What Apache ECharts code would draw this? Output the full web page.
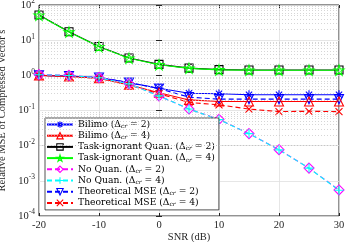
<!DOCTYPE html>
<html><head><meta charset="utf-8">
<script src="https://cdn.jsdelivr.net/npm/echarts@6/dist/echarts.min.js"></script>
<style>html,body{margin:0;padding:0;background:#fff}#c{width:346px;height:242px}</style>
</head><body><div id="c"></div>
<script>
const snr = [-20,-15,-10,-5,0,5,10,15,20,25,30];
const bilimo2 = [1.0,0.95,0.87,0.62,0.43,0.31,0.30,0.28,0.28,0.28,0.28];
const bilimo4 = [1.0,0.93,0.83,0.54,0.32,0.20,0.18,0.18,0.18,0.18,0.18];
const task2 = [52,17.4,6.6,3.1,2.05,1.6,1.45,1.42,1.42,1.42,1.42];
const task4 = [51,17,6.5,3.05,2.0,1.58,1.43,1.4,1.4,1.4,1.4];
const noq2 = [1.05,1.0,0.86,0.58,0.26,0.11,0.056,0.022,0.0077,0.0023,0.00055];
const noq4 = [1.04,0.99,0.85,0.57,0.26,0.11,0.055,0.022,0.0076,0.0023,0.00054];
const theo2 = [1.0,0.96,0.87,0.62,0.42,0.24,0.21,0.21,0.21,0.21,0.21];
const theo4 = [1.0,0.93,0.82,0.53,0.30,0.17,0.145,0.11,0.093,0.095,0.093];
const names = ['Bilimo (Δcr = 2)','Bilimo (Δcr = 4)','Task-ignorant Quan. (Δcr = 2)','Task-ignorant Quan. (Δcr = 4)','No Quan. (Δcr = 2)','No Quan. (Δcr = 4)','Theoretical MSE (Δcr = 2)','Theoretical MSE (Δcr = 4)'];

const FONT = 'Liberation Serif';
const LFONT = 'DejaVu Serif';
const asterisk = 'path://M5,0 L5,10 M0,5 L10,5 M1.5,1.5 L8.5,8.5 M1.5,8.5 L8.5,1.5';
const plus = 'path://M5,0 L5,10 M0,5 L10,5';
const cross = 'path://M0,0 L10,10 M0,10 L10,0';
const star = 'path://M5,0 L6.2,3.6 L10,3.6 L6.9,5.8 L8.1,9.5 L5,7.2 L1.9,9.5 L3.1,5.8 L0,3.6 L3.8,3.6 Z';
const downTri = 'path://M0,0 L10,0 L5,8.7 Z';
const clear = 'rgba(255,255,255,0)';

function pairs(arr){ return snr.map((x,i)=>[x,arr[i]]); }
const colorOf = {};
function mk(name, data, color, symbol, size, dashed){
  colorOf[name] = color;
  return {
    name, type:'line', data:pairs(data), symbol, symbolSize:size,
    lineStyle:{color, width:1.1, type: dashed ? [5,3] : 'solid'},
    itemStyle:{color: clear, borderColor:color, borderWidth:1.1},
    emphasis:{disabled:true}, z: 3
  };
}
const minorVals = [];
for (let k=-4;k<=1;k++) for (let m=2;m<=9;m++) minorVals.push(m*Math.pow(10,k));

const series = [
  mk(names[2], task2, '#000000', 'rect', 8, false),
  mk(names[3], task4, '#00ff00', star, 10, false),
  mk(names[0], bilimo2, '#0000ff', asterisk, 9, false),
  mk(names[6], theo2, '#0000ff', downTri, 9, true),
  mk(names[1], bilimo4, '#ff0000', 'triangle', 9, false),
  mk(names[7], theo4, '#ff0000', cross, 7, true),
  mk(names[4], noq2, '#ff00ff', 'diamond', 10, true),
  mk(names[5], noq4, '#00ffff', plus, 9, true),
  {
    name:'minorgrid', type:'line', data:[], silent:true, z:1,
    markLine:{silent:true, symbol:'none', label:{show:false},
      lineStyle:{color:'#c4c4c4', type:[1,2], width:0.7},
      data: minorVals.map(v=>({yAxis:v}))}
  }
];

const chart = echarts.init(document.getElementById('c'), null, {renderer:'canvas'});
chart.setOption({
  animation:false,
  backgroundColor:'#fff',
  grid:{left:39, right:7, top:5, bottom:26, show:true, borderColor:'#262626', borderWidth:1,
    backgroundColor:'transparent', containLabel:false, outerBoundsMode:'none'},
  xAxis:[{type:'value', min:-20, max:30, interval:10,
    axisLine:{show:false}, axisTick:{inside:true, length:3, lineStyle:{color:'#262626'}},
    axisLabel:{color:'#262626', fontFamily:FONT, fontSize:10.5, margin:4},
    splitLine:{show:true, lineStyle:{color:'#e0e0e0', width:0.8}},
    name:'SNR (dB)', nameLocation:'middle', nameGap:16, nameMoveOverlap:false,
    nameTextStyle:{color:'#262626', fontFamily:FONT, fontSize:10.5, verticalAlign:'top'}
  },{type:'value', position:'top', min:-20, max:30, interval:10,
    axisLine:{show:false}, axisTick:{inside:true, length:3, lineStyle:{color:'#262626'}},
    axisLabel:{show:false}, splitLine:{show:false}}],
  yAxis:[{type:'log', logBase:10, min:1e-4, max:100,
    axisLine:{show:false}, axisTick:{inside:true, length:3, lineStyle:{color:'#262626'}},
    axisLabel:{color:'#262626', fontFamily:FONT, fontSize:10.5, margin:4,
      formatter:function(v){ return '10{sup|'+Math.round(Math.log10(v))+'}'; },
      rich:{sup:{fontSize:7.5, fontFamily:FONT, color:'#262626', padding:[0,0,7,0]}}},
    splitLine:{show:true, lineStyle:{color:'#e0e0e0', width:0.8}},
    name:'Relative MSE of Compressed Vector s', nameLocation:'middle', nameGap:24,
    nameTextStyle:{color:'#262626', fontFamily:FONT, fontSize:10.5}
  },{type:'log', logBase:10, min:1e-4, max:100, position:'right',
    axisLine:{show:false}, axisTick:{inside:true, length:3, lineStyle:{color:'#262626'}},
    axisLabel:{show:false}, splitLine:{show:false}}],
  legend:{
    data:names.map(n=>({name:n, itemStyle:{color:clear, borderColor:colorOf[n], borderWidth:1.1}})),
    orient:'vertical', left:45, top:118,
    itemWidth:26, itemHeight:8, itemGap:1.7,
    padding:[2,4,2,1],
    backgroundColor:'#fff', borderColor:'#262626', borderWidth:0.8, borderRadius:0,
    textStyle:{color:'#000', fontFamily:LFONT, fontSize:9.2,
      rich:{sub:{fontSize:6, fontFamily:LFONT, fontStyle:'italic', color:'#000', padding:[4,0,0,0]}}},
    formatter:function(n){ return n.replace('Δcr','Δ{sub|cr}'); },
    selectedMode:false
  },
  series
});
</script></body></html>
